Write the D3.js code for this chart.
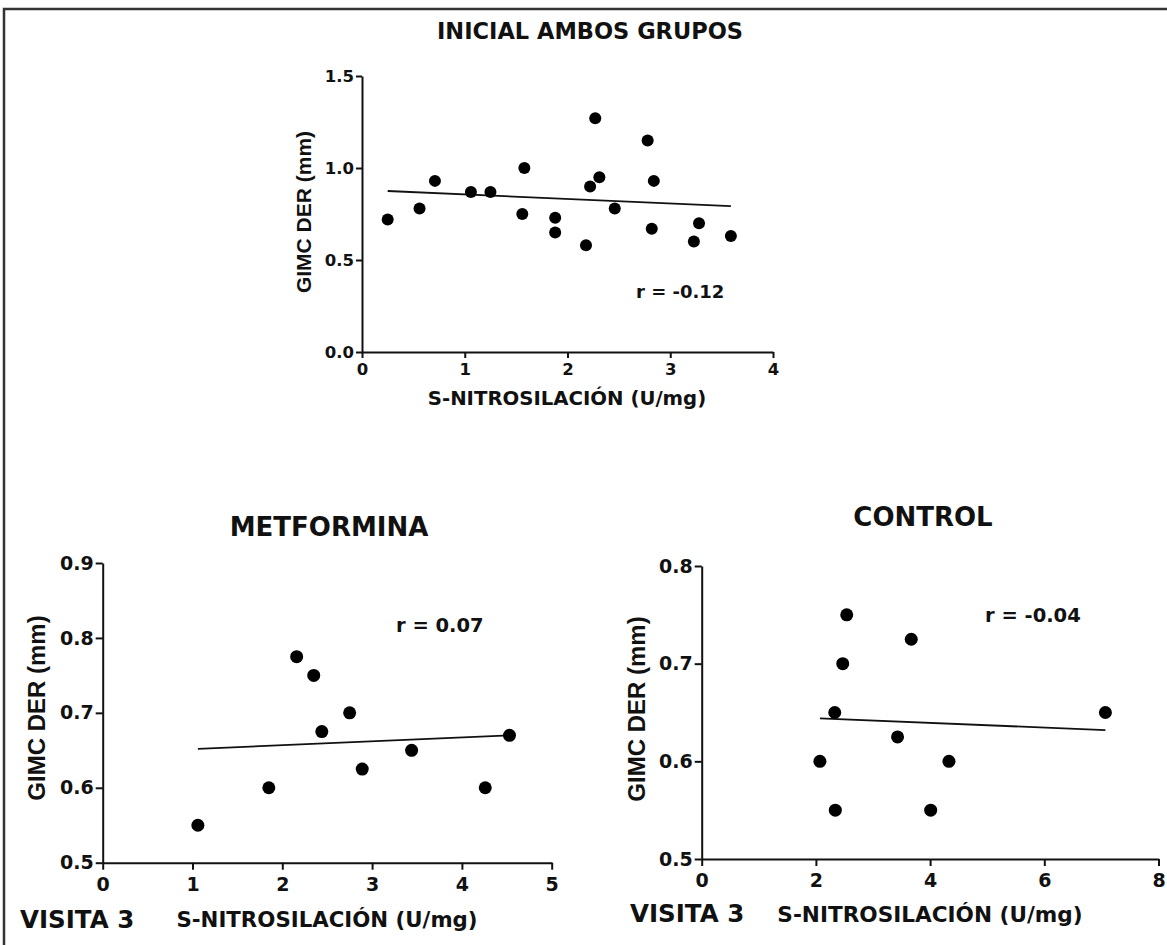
<!DOCTYPE html>
<html>
<head>
    <title>GIMC DER vs S-Nitrosilación</title>
    <script src="https://d3js.org/d3.v7.min.js"></script>
    <style>
        body {
            margin: 0;
            background: #fff;
        }
        svg text {
            font-family: "DejaVu Sans", sans-serif;
            font-weight: bold;
            fill: #111;
        }
        .axis path, .axis line {
            stroke: #111;
            stroke-width: 2;
        }
        .fit {
            stroke: #111;
            stroke-width: 1.8;
        }
    </style>
</head>
<body>
    <div id="viz"></div>
    <script>
        // Initial visit, both groups
        const inicialX = [0.25, 0.56, 0.71, 1.06, 1.25, 1.58, 1.56, 1.88, 1.88, 2.18, 2.22, 2.27, 2.31, 2.46, 2.78, 2.84, 2.82, 3.23, 3.28, 3.59];
        const inicialY = [0.72, 0.78, 0.93, 0.87, 0.87, 1.00, 0.75, 0.73, 0.65, 0.58, 0.90, 1.27, 0.95, 0.78, 1.15, 0.93, 0.67, 0.60, 0.70, 0.63];
        const inicialFit = [[0.25, 0.875], [3.59, 0.793]];
        const inicialR = -0.12;
        const inicialXTicks = [0, 1, 2, 3, 4];
        const inicialYTicks = [0, 0.5, 1.0, 1.5];

        // Visit 3, metformin group
        const metforminaX = [1.06, 1.85, 2.16, 2.35, 2.44, 2.75, 2.89, 3.44, 4.26, 4.53];
        const metforminaY = [0.55, 0.60, 0.775, 0.75, 0.675, 0.70, 0.625, 0.65, 0.60, 0.67];
        const metforminaFit = [[1.06, 0.652], [4.53, 0.670]];
        const metforminaR = 0.07;
        const metforminaXTicks = [0, 1, 2, 3, 4, 5];
        const metforminaYTicks = [0.5, 0.6, 0.7, 0.8, 0.9];

        // Visit 3, control group
        const controlX = [2.54, 3.67, 2.47, 2.33, 7.07, 3.43, 2.07, 4.33, 2.34, 4.01];
        const controlY = [0.75, 0.725, 0.70, 0.65, 0.65, 0.625, 0.60, 0.60, 0.55, 0.55];
        const controlFit = [[2.07, 0.644], [7.07, 0.632]];
        const controlR = -0.04;
        const controlXTicks = [0, 2, 4, 6, 8];
        const controlYTicks = [0.5, 0.6, 0.7, 0.8];

        const xTitle = 'S-NITROSILACIÓN (U/mg)';
        const yTitle = 'GIMC DER (mm)';

        const width = 1167;
        const height = 945;

        const svg = d3.select('#viz')
            .append('svg')
            .attr('width', width)
            .attr('height', height);

        // Outer frame (top and left edges only)
        svg.append('path')
            .attr('d', `M4,${height} V9 H${width}`)
            .attr('fill', 'none')
            .attr('stroke', '#333')
            .attr('stroke-width', 2.5);

        const panels = [
            {
                title: 'INICIAL AMBOS GRUPOS', xs: inicialX, ys: inicialY, fit: inicialFit, r: inicialR,
                xDomain: [0, 4], yDomain: [0, 1.5], xTicks: inicialXTicks, yTicks: inicialYTicks,
                box: { left: 362, right: 773, top: 76, bottom: 352 },
                tickSize: 6, tickFont: 16.5, xPad: 5, dotR: 6,
                titlePos: [590, 39, 22.5],
                xTitlePos: [567, 405, 19.7],
                yTitlePos: [311, 212, 21],
                rPos: [636, 298, 18],
                visita: null
            },
            {
                title: 'METFORMINA', xs: metforminaX, ys: metforminaY, fit: metforminaFit, r: metforminaR,
                xDomain: [0, 5], yDomain: [0.5, 0.9], xTicks: metforminaXTicks, yTicks: metforminaYTicks,
                box: { left: 102.7, right: 551.7, top: 563, bottom: 862.7 },
                tickSize: 7, tickFont: 19, xPad: 8, dotR: 6.5,
                titlePos: [329, 536, 26],
                xTitlePos: [327, 927, 21.3],
                yTitlePos: [45, 708, 24],
                rPos: [396, 632, 19.5],
                visita: [20, 928, 24.5]
            },
            {
                title: 'CONTROL', xs: controlX, ys: controlY, fit: controlFit, r: controlR,
                xDomain: [0, 8], yDomain: [0.5, 0.8], xTicks: controlXTicks, yTicks: controlYTicks,
                box: { left: 701.7, right: 1158.5, top: 566, bottom: 859 },
                tickSize: 7, tickFont: 19, xPad: 8, dotR: 6.5,
                titlePos: [923, 526, 26],
                xTitlePos: [930, 922, 21.6],
                yTitlePos: [645, 709, 24],
                rPos: [985, 622, 19.5],
                visita: [630, 922, 24.5]
            }
        ];

        panels.forEach(p => {
            const x = d3.scaleLinear().domain(p.xDomain).range([p.box.left, p.box.right]);
            const y = d3.scaleLinear().domain(p.yDomain).range([p.box.bottom, p.box.top]);
            const g = svg.append('g');

            const xAxis = d3.axisBottom(x)
                .tickValues(p.xTicks)
                .tickFormat(d3.format('d'))
                .tickSize(p.tickSize)
                .tickSizeOuter(0)
                .tickPadding(p.xPad);
            const yAxis = d3.axisLeft(y)
                .tickValues(p.yTicks)
                .tickFormat(d3.format('.1f'))
                .tickSize(p.tickSize)
                .tickSizeOuter(0)
                .tickPadding(2);

            g.append('g')
                .attr('class', 'axis')
                .attr('transform', `translate(0,${p.box.bottom})`)
                .call(xAxis)
                .selectAll('text')
                .attr('fill', '#111')
                .style('font-size', p.tickFont + 'px');

            g.append('g')
                .attr('class', 'axis')
                .attr('transform', `translate(${p.box.left},0)`)
                .call(yAxis)
                .selectAll('text')
                .attr('fill', '#111')
                .style('font-size', p.tickFont + 'px');

            // Regression line
            g.append('line')
                .attr('class', 'fit')
                .attr('x1', x(p.fit[0][0]))
                .attr('y1', y(p.fit[0][1]))
                .attr('x2', x(p.fit[1][0]))
                .attr('y2', y(p.fit[1][1]));

            // Data points
            g.append('g')
                .selectAll('circle')
                .data(p.xs.map((v, i) => [v, p.ys[i]]))
                .enter().append('circle')
                .attr('cx', d => x(d[0]))
                .attr('cy', d => y(d[1]))
                .attr('r', p.dotR)
                .attr('fill', '#000');

            g.append('text')
                .attr('x', p.titlePos[0])
                .attr('y', p.titlePos[1])
                .attr('text-anchor', 'middle')
                .style('font-size', p.titlePos[2] + 'px')
                .text(p.title);

            g.append('text')
                .attr('x', p.xTitlePos[0])
                .attr('y', p.xTitlePos[1])
                .attr('text-anchor', 'middle')
                .style('font-size', p.xTitlePos[2] + 'px')
                .text(xTitle);

            g.append('text')
                .attr('transform', `translate(${p.yTitlePos[0]},${p.yTitlePos[1]}) rotate(-90)`)
                .attr('text-anchor', 'middle')
                .style('font-family', '"Liberation Sans", Arial, sans-serif')
                .style('font-size', p.yTitlePos[2] + 'px')
                .text(yTitle);

            g.append('text')
                .attr('x', p.rPos[0])
                .attr('y', p.rPos[1])
                .style('font-size', p.rPos[2] + 'px')
                .text(`r = ${p.r.toFixed(2)}`);

            if (p.visita) {
                g.append('text')
                    .attr('x', p.visita[0])
                    .attr('y', p.visita[1])
                    .style('font-size', p.visita[2] + 'px')
                    .text('VISITA 3');
            }
        });
    </script>
</body>
</html>
